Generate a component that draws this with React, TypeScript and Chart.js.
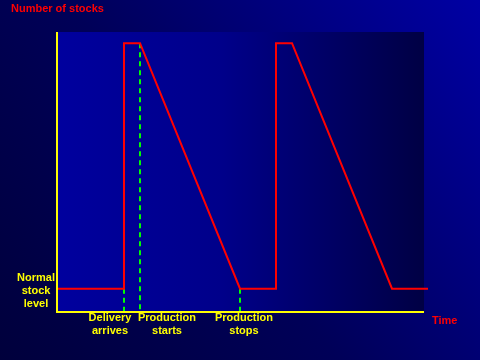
import React, { useEffect, useRef } from "react";
import { Chart, registerables } from "chart.js";

Chart.register(...registerables);

// Stock level over time (time units, stock units)
const stockTimes = [0, 17, 17, 21, 46, 55, 55, 59, 84, 93];
const stockLevels = [8, 8, 96, 96, 8, 8, 96, 96, 8, 8];

// Event markers (green dashed verticals)
const eventTimes = [17, 21, 46];
const eventTops = [8, 96, 8];
const eventLabels = [
  ["Delivery", "arrives"],
  ["Production", "starts"],
  ["Production", "stops"],
];

const normalLabel = ["Normal", "stock", "level"];
const yAxisTitle = "Number of stocks";
const xAxisTitle = "Time";

const xMin = 0;
const xMax = 92;
const yMin = 0;
const yMax = 100;

const decorPlugin = {
  id: "decor",
  beforeDraw(chart: any) {
    const { ctx, width, height, chartArea } = chart;
    ctx.save();
    const g = ctx.createLinearGradient(0, height, width, 0);
    g.addColorStop(0, "#00003c");
    g.addColorStop(0.45, "#000058");
    g.addColorStop(1, "#0000a4");
    ctx.fillStyle = g;
    ctx.fillRect(0, 0, width, height);
    const { left, right, top, bottom } = chartArea;
    const pg = ctx.createLinearGradient(left, 0, right, 0);
    pg.addColorStop(0, "#00009e");
    pg.addColorStop(0.45, "#00008a");
    pg.addColorStop(1, "#000044");
    ctx.fillStyle = pg;
    ctx.fillRect(left, top, right - left, bottom - top);
    ctx.restore();
  },
  afterDatasetsDraw(chart: any) {
    const { ctx, chartArea } = chart;
    const { left, right, top, bottom } = chartArea;
    ctx.save();
    ctx.strokeStyle = "#ffff00";
    ctx.lineWidth = 2;
    ctx.beginPath();
    ctx.moveTo(left + 1, top);
    ctx.lineTo(left + 1, bottom + 1);
    ctx.lineTo(right, bottom + 1);
    ctx.stroke();
    ctx.restore();
  },
  afterDraw(chart: any) {
    const { ctx, scales } = chart;
    const xs = scales.x;
    const ys = scales.y;
    ctx.save();
    ctx.font = "bold 11px 'Liberation Sans', Arial, sans-serif";
    ctx.textBaseline = "middle";
    // axis titles
    ctx.fillStyle = "#ff0000";
    ctx.textAlign = "left";
    ctx.fillText(yAxisTitle, 11, 9);
    ctx.fillText(xAxisTitle, xs.right + 8, ys.bottom + 10);
    // normal stock level
    ctx.fillStyle = "#ffff00";
    ctx.textAlign = "center";
    const baseY = ys.getPixelForValue(stockLevels[0]);
    normalLabel.forEach((t, i) => {
      ctx.fillText(t, 36, baseY - 11 + i * 13);
    });
    // event labels
    const offsets = [-14, 27, 4];
    eventLabels.forEach((lines, k) => {
      const px = xs.getPixelForValue(eventTimes[k]) + offsets[k];
      lines.forEach((t, i) => {
        ctx.fillText(t, px, ys.bottom + 7 + i * 13);
      });
    });
    ctx.restore();
  },
};

export default function App() {
  const ref = useRef<HTMLCanvasElement | null>(null);
  useEffect(() => {
    document.body.style.margin = "0";
    const canvas = ref.current!;
    const eventSets = eventTimes.map((t, i) => ({
      data: [
        { x: t, y: eventTops[i] },
        { x: t, y: yMin },
      ],
      borderColor: "#00ff00",
      borderWidth: 2,
      borderDash: [5, 4],
      pointRadius: 0,
      fill: false,
      order: 2,
    }));
    const chart = new Chart(canvas, {
      type: "line",
      data: {
        datasets: [
          {
            data: stockTimes.map((t, i) => ({ x: t, y: stockLevels[i] })),
            borderColor: "#ff0000",
            borderWidth: 2,
            pointRadius: 0,
            fill: false,
            tension: 0,
            clip: false as any,
            order: 1,
          },
          ...eventSets,
        ],
      },
      options: {
        responsive: false,
        animation: false,
        events: [],
        layout: {
          autoPadding: false,
          padding: { left: 56, right: 56, top: 32, bottom: 49 },
        },
        plugins: {
          legend: { display: false },
          tooltip: { enabled: false },
          title: { display: false },
        },
        scales: {
          x: { type: "linear", display: false, min: xMin, max: xMax },
          y: { type: "linear", display: false, min: yMin, max: yMax },
        },
      } as any,
      plugins: [decorPlugin],
    });
    return () => chart.destroy();
  }, []);
  return (
    <div style={{ position: "absolute", left: 0, top: 0, width: 480, height: 360 }}>
      <canvas ref={ref} width={480} height={360} style={{ width: 480, height: 360, display: "block" }} />
    </div>
  );
}
